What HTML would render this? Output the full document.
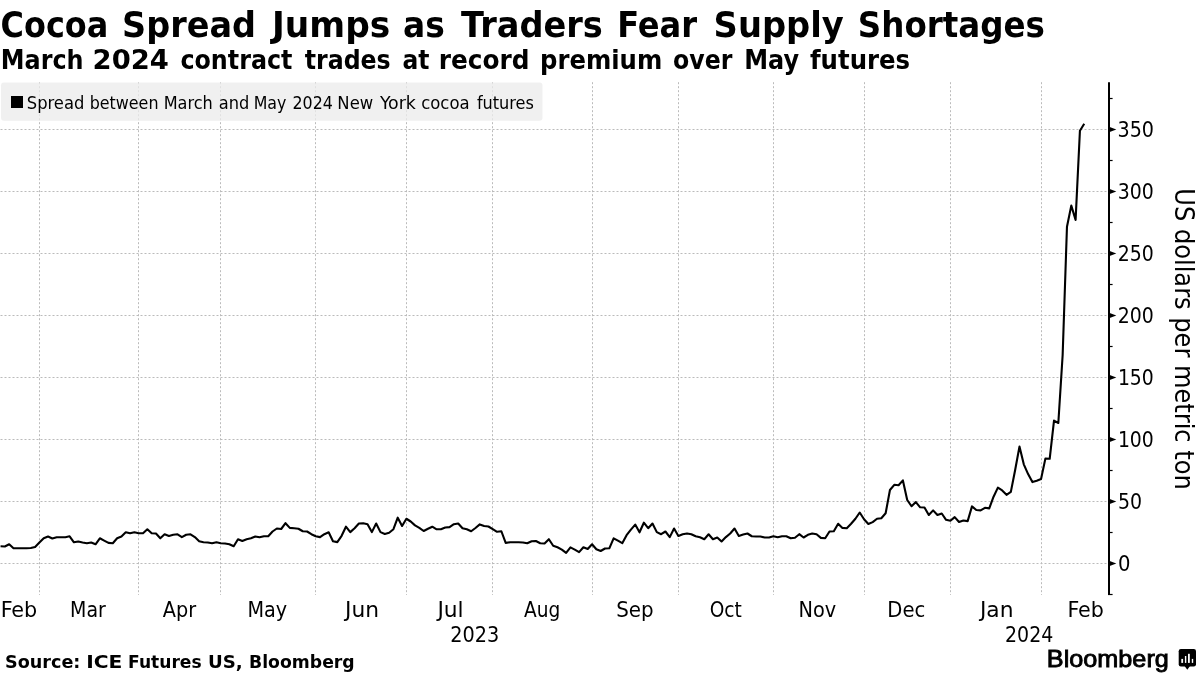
<!DOCTYPE html>
<html><head><meta charset="utf-8"><title>Cocoa Spread Jumps as Traders Fear Supply Shortages</title>
<style>
html,body{margin:0;padding:0;background:#fff;width:1200px;height:675px;overflow:hidden}
svg{display:block}
.t1{font-family:"DejaVu Sans",sans-serif;font-weight:bold;font-size:34.8px;fill:#000}
.t2{font-family:"DejaVu Sans",sans-serif;font-weight:bold;font-size:25.8px;fill:#000}
.lg{font-family:"DejaVu Sans Condensed","DejaVu Sans",sans-serif;font-stretch:condensed;font-size:18.2px;fill:#000}
.ax{font-family:"DejaVu Sans Condensed","DejaVu Sans",sans-serif;font-stretch:condensed;font-size:22px;fill:#000}
.yt{font-family:"DejaVu Sans Condensed","DejaVu Sans",sans-serif;font-stretch:condensed;font-size:26.8px;fill:#000}
.src{font-family:"DejaVu Sans",sans-serif;font-weight:bold;font-size:17.6px;fill:#000}
.bb{font-family:"Liberation Sans",sans-serif;font-size:24.5px;fill:#000;stroke:#000;stroke-width:0.9px}
</style></head>
<body>
<svg width="1200" height="675" viewBox="0 0 1200 675">
<rect width="1200" height="675" fill="#fff"/>
<text x="0.57" y="36.7" class="t1" textLength="107.7" lengthAdjust="spacingAndGlyphs">Cocoa</text><text x="122.11" y="36.7" class="t1" textLength="133.89" lengthAdjust="spacingAndGlyphs">Spread</text><text x="271.98" y="36.7" class="t1" textLength="118.36" lengthAdjust="spacingAndGlyphs">Jumps</text><text x="403.11" y="36.7" class="t1" textLength="41.78" lengthAdjust="spacingAndGlyphs">as</text><text x="461.0" y="36.7" class="t1" textLength="141.87" lengthAdjust="spacingAndGlyphs">Traders</text><text x="617.23" y="36.7" class="t1" textLength="79.91" lengthAdjust="spacingAndGlyphs">Fear</text><text x="713.59" y="36.7" class="t1" textLength="130.24" lengthAdjust="spacingAndGlyphs">Supply</text><text x="857.8" y="36.7" class="t1" textLength="187.17" lengthAdjust="spacingAndGlyphs">Shortages</text>
<text x="0.85" y="68.7" class="t2" textLength="82.73" lengthAdjust="spacingAndGlyphs">March</text><text x="92.58" y="68.7" class="t2" textLength="76.29" lengthAdjust="spacingAndGlyphs">2024</text><text x="180.38" y="68.7" class="t2" textLength="112.05" lengthAdjust="spacingAndGlyphs">contract</text><text x="304.7" y="68.7" class="t2" textLength="86.02" lengthAdjust="spacingAndGlyphs">trades</text><text x="402.39" y="68.7" class="t2" textLength="26.99" lengthAdjust="spacingAndGlyphs">at</text><text x="438.78" y="68.7" class="t2" textLength="90.85" lengthAdjust="spacingAndGlyphs">record</text><text x="540.12" y="68.7" class="t2" textLength="122.14" lengthAdjust="spacingAndGlyphs">premium</text><text x="673.08" y="68.7" class="t2" textLength="59.4" lengthAdjust="spacingAndGlyphs">over</text><text x="744.14" y="68.7" class="t2" textLength="54.89" lengthAdjust="spacingAndGlyphs">May</text><text x="810.0" y="68.7" class="t2" textLength="100.11" lengthAdjust="spacingAndGlyphs">futures</text>
<g stroke="#bbbbbb" stroke-width="1" stroke-dasharray="2 2" fill="none"><line x1="0" y1="563.5" x2="1108" y2="563.5" stroke-dashoffset="-0.5"/><line x1="0" y1="501.5" x2="1108" y2="501.5" stroke-dashoffset="-0.5"/><line x1="0" y1="439.5" x2="1108" y2="439.5" stroke-dashoffset="-0.5"/><line x1="0" y1="377.5" x2="1108" y2="377.5" stroke-dashoffset="-0.5"/><line x1="0" y1="315.5" x2="1108" y2="315.5" stroke-dashoffset="-0.5"/><line x1="0" y1="253.5" x2="1108" y2="253.5" stroke-dashoffset="-0.5"/><line x1="0" y1="191.5" x2="1108" y2="191.5" stroke-dashoffset="-0.5"/><line x1="0" y1="129.5" x2="1108" y2="129.5" stroke-dashoffset="-0.5"/><line x1="39.5" y1="82.2" x2="39.5" y2="595"/><line x1="138.5" y1="82.2" x2="138.5" y2="595"/><line x1="220.5" y1="82.2" x2="220.5" y2="595"/><line x1="315.5" y1="82.2" x2="315.5" y2="595"/><line x1="406.5" y1="82.2" x2="406.5" y2="595"/><line x1="492.5" y1="82.2" x2="492.5" y2="595"/><line x1="592.5" y1="82.2" x2="592.5" y2="595"/><line x1="678.5" y1="82.2" x2="678.5" y2="595"/><line x1="773.5" y1="82.2" x2="773.5" y2="595"/><line x1="864.5" y1="82.2" x2="864.5" y2="595"/><line x1="950.5" y1="82.2" x2="950.5" y2="595"/><line x1="1041.5" y1="82.2" x2="1041.5" y2="595"/></g>
<rect x="1" y="82.4" width="541.5" height="38.4" rx="3" fill="#ebebeb" fill-opacity="0.76"/>
<rect x="11" y="96" width="12" height="12" fill="#000"/>
<text x="26.75" y="108.9" class="lg" textLength="57.59" lengthAdjust="spacingAndGlyphs">Spread</text><text x="89.63" y="108.9" class="lg" textLength="68.88" lengthAdjust="spacingAndGlyphs">between</text><text x="163.63" y="108.9" class="lg" textLength="49.1" lengthAdjust="spacingAndGlyphs">March</text><text x="218.76" y="108.9" class="lg" textLength="30.52" lengthAdjust="spacingAndGlyphs">and</text><text x="253.66" y="108.9" class="lg" textLength="32.74" lengthAdjust="spacingAndGlyphs">May</text><text x="292.53" y="108.9" class="lg" textLength="40.34" lengthAdjust="spacingAndGlyphs">2024</text><text x="337.39" y="108.9" class="lg" textLength="35.81" lengthAdjust="spacingAndGlyphs">New</text><text x="380.0" y="108.9" class="lg" textLength="35.83" lengthAdjust="spacingAndGlyphs">York</text><text x="421.24" y="108.9" class="lg" textLength="48.31" lengthAdjust="spacingAndGlyphs">cocoa</text><text x="476.9" y="108.9" class="lg" textLength="57.03" lengthAdjust="spacingAndGlyphs">futures</text>
<polyline points="0.54,546.30 4.86,546.50 9.18,544.30 13.49,548.20 17.81,548.30 22.13,548.30 26.45,548.30 30.77,548.00 35.08,547.00 39.40,542.60 43.72,538.30 48.03,536.50 52.35,538.50 56.67,537.30 60.99,537.30 65.31,537.30 69.62,536.30 73.94,542.30 78.26,541.50 82.57,542.50 86.89,543.30 91.21,542.50 95.53,544.30 99.84,538.30 104.16,540.60 108.48,542.90 112.80,543.20 117.12,538.30 121.43,536.50 125.75,532.30 130.07,533.30 134.38,532.30 138.70,533.30 143.02,533.30 147.34,529.30 151.66,533.20 155.97,533.50 160.29,538.30 164.61,534.30 168.93,536.00 173.24,534.80 177.56,534.30 181.88,537.10 186.19,534.80 190.51,534.30 194.83,537.10 199.15,541.25 203.47,542.30 207.78,542.50 212.10,543.30 216.42,542.30 220.74,543.30 225.05,543.50 229.37,544.20 233.69,546.25 238.00,539.30 242.32,541.00 246.64,539.30 250.96,538.30 255.28,536.50 259.59,537.30 263.91,536.25 268.23,536.25 272.54,531.50 276.86,528.50 281.18,529.00 285.50,523.20 289.81,527.90 294.13,528.30 298.45,528.75 302.77,531.25 307.08,531.50 311.40,534.20 315.72,536.25 320.04,537.10 324.35,534.20 328.67,532.30 332.99,541.25 337.31,542.10 341.62,535.80 345.94,526.70 350.26,532.10 354.58,528.20 358.89,523.50 363.21,523.30 367.53,524.30 371.85,532.10 376.16,523.50 380.48,532.10 384.80,534.00 389.12,532.70 393.43,529.20 397.75,517.70 402.07,526.00 406.39,518.75 410.70,521.50 415.02,525.40 419.34,527.90 423.66,531.00 427.97,528.75 432.29,526.70 436.61,529.30 440.93,529.30 445.24,527.50 449.56,527.10 453.88,524.20 458.20,523.50 462.51,528.20 466.83,529.30 471.15,531.25 475.47,528.00 479.78,524.40 484.10,526.00 488.42,526.50 492.74,529.20 497.05,531.80 501.37,531.25 505.69,542.90 510.01,542.30 514.33,542.30 518.64,542.30 522.96,542.50 527.28,543.30 531.60,541.25 535.91,541.00 540.23,543.20 544.55,543.50 548.87,539.20 553.18,545.80 557.50,547.30 561.82,549.60 566.13,552.90 570.45,547.40 574.77,549.60 579.09,552.10 583.40,547.30 587.72,549.00 592.04,544.30 596.36,549.20 600.67,551.00 604.99,548.50 609.31,548.30 613.63,538.30 617.94,540.70 622.26,543.20 626.58,535.20 630.90,529.60 635.21,524.60 639.53,532.30 643.85,522.70 648.17,528.20 652.49,523.50 656.80,532.10 661.12,534.20 665.44,531.50 669.75,537.10 674.07,528.50 678.39,536.00 682.71,534.30 687.02,533.50 691.34,534.20 695.66,536.25 699.98,537.30 704.29,539.20 708.61,534.30 712.93,539.20 717.25,537.50 721.56,541.50 725.88,537.10 730.20,533.50 734.52,528.50 738.83,536.00 743.15,534.60 747.47,533.50 751.79,536.25 756.10,536.50 760.42,536.50 764.74,537.50 769.06,537.50 773.38,536.25 777.69,537.30 782.01,536.25 786.33,536.25 790.64,538.30 794.96,537.70 799.28,534.20 803.60,537.50 807.91,534.80 812.23,533.50 816.55,534.20 820.87,537.90 825.18,538.30 829.50,531.50 833.82,531.25 838.14,523.75 842.45,527.90 846.77,528.20 851.09,523.75 855.41,518.75 859.72,512.50 864.04,519.20 868.36,524.00 872.68,522.10 877.00,518.75 881.31,518.20 885.63,513.30 889.95,490.00 894.26,484.80 898.58,485.20 902.90,480.40 907.22,500.00 911.53,506.25 915.85,502.10 920.17,507.30 924.49,507.50 928.80,515.00 933.12,510.40 937.44,515.00 941.76,513.50 946.07,519.80 950.39,520.80 954.71,517.10 959.03,522.00 963.34,520.50 967.66,521.10 971.98,506.40 976.30,510.00 980.62,510.40 984.93,507.80 989.25,508.40 993.57,496.70 997.88,487.60 1002.20,490.40 1006.52,494.80 1010.84,491.90 1015.15,470.00 1019.47,446.60 1023.79,464.30 1028.11,474.10 1032.42,482.10 1036.74,480.80 1041.06,479.00 1045.38,458.60 1049.69,458.80 1054.01,420.60 1058.33,423.00 1062.65,355.00 1066.97,226.70 1071.28,205.60 1075.60,219.90 1079.92,130.70 1084.24,123.80" fill="none" stroke="#000" stroke-width="2.1" stroke-linejoin="round" stroke-linecap="butt"/>
<line x1="1109" y1="82.2" x2="1109" y2="594.4" stroke="#000" stroke-width="2"/>
<line x1="1108" y1="594.5" x2="1112.6" y2="594.5" stroke="#000" stroke-width="1.2"/><line x1="1108" y1="532.5" x2="1112.6" y2="532.5" stroke="#000" stroke-width="1.2"/><line x1="1108" y1="470.5" x2="1112.6" y2="470.5" stroke="#000" stroke-width="1.2"/><line x1="1108" y1="408.5" x2="1112.6" y2="408.5" stroke="#000" stroke-width="1.2"/><line x1="1108" y1="346.5" x2="1112.6" y2="346.5" stroke="#000" stroke-width="1.2"/><line x1="1108" y1="284.5" x2="1112.6" y2="284.5" stroke="#000" stroke-width="1.2"/><line x1="1108" y1="222.5" x2="1112.6" y2="222.5" stroke="#000" stroke-width="1.2"/><line x1="1108" y1="160.5" x2="1112.6" y2="160.5" stroke="#000" stroke-width="1.2"/><line x1="1108" y1="98.5" x2="1112.6" y2="98.5" stroke="#000" stroke-width="1.2"/><path d="M1109 560.8 L1116.3 563.5 L1109 566.2 Z" fill="#000"/><text x="1118.01" y="570.9" class="ax" textLength="12.47" lengthAdjust="spacingAndGlyphs">0</text><path d="M1109 498.8 L1116.3 501.5 L1109 504.2 Z" fill="#000"/><text x="1118.04" y="508.9" class="ax" textLength="24.09" lengthAdjust="spacingAndGlyphs">50</text><path d="M1109 436.8 L1116.3 439.5 L1109 442.2 Z" fill="#000"/><text x="1117.9" y="446.9" class="ax" textLength="35.95" lengthAdjust="spacingAndGlyphs">100</text><path d="M1109 374.8 L1116.3 377.5 L1109 380.2 Z" fill="#000"/><text x="1117.9" y="384.9" class="ax" textLength="35.95" lengthAdjust="spacingAndGlyphs">150</text><path d="M1109 312.8 L1116.3 315.5 L1109 318.2 Z" fill="#000"/><text x="1117.74" y="322.9" class="ax" textLength="36.1" lengthAdjust="spacingAndGlyphs">200</text><path d="M1109 250.8 L1116.3 253.5 L1109 256.2 Z" fill="#000"/><text x="1117.74" y="260.9" class="ax" textLength="36.1" lengthAdjust="spacingAndGlyphs">250</text><path d="M1109 188.8 L1116.3 191.5 L1109 194.2 Z" fill="#000"/><text x="1117.8" y="198.9" class="ax" textLength="36.05" lengthAdjust="spacingAndGlyphs">300</text><path d="M1109 126.8 L1116.3 129.5 L1109 132.2 Z" fill="#000"/><text x="1117.53" y="136.9" class="ax" textLength="36.52" lengthAdjust="spacingAndGlyphs">350</text>
<text transform="translate(1174.7 188.3) rotate(90)" class="yt">US dollars per metric ton</text>
<text x="0.71" y="617" class="ax" textLength="36.58" lengthAdjust="spacingAndGlyphs">Feb</text><text x="70.09" y="617" class="ax" textLength="35.74" lengthAdjust="spacingAndGlyphs">Mar</text><text x="162.8" y="617" class="ax" textLength="33.34" lengthAdjust="spacingAndGlyphs">Apr</text><text x="247.46" y="617" class="ax" textLength="39.74" lengthAdjust="spacingAndGlyphs">May</text><text x="345.13" y="617" class="ax" textLength="34.03" lengthAdjust="spacingAndGlyphs">Jun</text><text x="437.4" y="617" class="ax" textLength="26.28" lengthAdjust="spacingAndGlyphs">Jul</text><text x="524.0" y="617" class="ax" textLength="36.25" lengthAdjust="spacingAndGlyphs">Aug</text><text x="616.2" y="617" class="ax" textLength="37.43" lengthAdjust="spacingAndGlyphs">Sep</text><text x="709.66" y="617" class="ax" textLength="32.14" lengthAdjust="spacingAndGlyphs">Oct</text><text x="798.55" y="617" class="ax" textLength="37.66" lengthAdjust="spacingAndGlyphs">Nov</text><text x="887.32" y="617" class="ax" textLength="37.98" lengthAdjust="spacingAndGlyphs">Dec</text><text x="979.96" y="617" class="ax" textLength="33.56" lengthAdjust="spacingAndGlyphs">Jan</text><text x="1067.52" y="617" class="ax" textLength="36.36" lengthAdjust="spacingAndGlyphs">Feb</text>
<text x="450.33" y="641.7" class="ax" textLength="49.0" lengthAdjust="spacingAndGlyphs">2023</text><text x="1005.04" y="641.7" class="ax" textLength="48.26" lengthAdjust="spacingAndGlyphs">2024</text>
<text x="5.0" y="667.7" class="src" textLength="75.36" lengthAdjust="spacingAndGlyphs">Source:</text><text x="86.2" y="667.7" class="src" textLength="36.21" lengthAdjust="spacingAndGlyphs">ICE</text><text x="128.05" y="667.7" class="src" textLength="73.61" lengthAdjust="spacingAndGlyphs">Futures</text><text x="207.93" y="667.7" class="src" textLength="34.78" lengthAdjust="spacingAndGlyphs">US,</text><text x="249.04" y="667.7" class="src" textLength="105.68" lengthAdjust="spacingAndGlyphs">Bloomberg</text>
<text x="1046.84" y="666.6" class="bb" textLength="121.99" lengthAdjust="spacingAndGlyphs">Bloomberg</text>
<g><rect x="1178.7" y="649.1" width="17.3" height="17.3" rx="2.2" fill="#000"/><path d="M1184.6 666 L1187.3 669.8 L1190 666 Z" fill="#000"/><rect x="1181.3" y="658.9" width="1.8" height="4" fill="#fff"/><rect x="1184.9" y="656" width="1.4" height="6.9" fill="#fff"/><rect x="1188" y="653.8" width="1.8" height="9.1" fill="#fff"/><rect x="1191.8" y="658.9" width="1.4" height="4" fill="#fff"/></g>
</svg>
</body></html>
